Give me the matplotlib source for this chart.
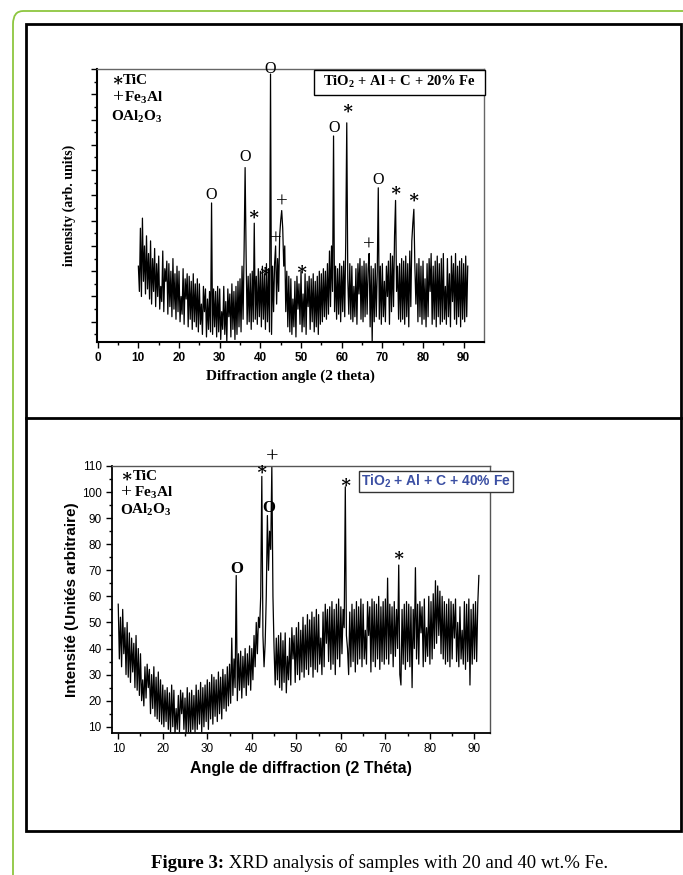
import numpy as np
import matplotlib
matplotlib.use('Agg')
import matplotlib.pyplot as plt
from matplotlib.patches import Rectangle, FancyBboxPatch
from matplotlib.lines import Line2D
from matplotlib import font_manager as fm

# 20 % Fe pattern (arb. units, 0.25 deg steps from 10 to 91)
ang20 = np.arange(10, 91.001, 0.25)
int20 = [
    30, 20, 45, 18, 49, 24, 38, 19, 42, 21,
    35, 17, 40, 15, 33, 20, 37, 14, 31, 18,
    34, 13, 22, 16, 36, 12, 29, 24, 32, 11,
    31, 14, 28, 10, 33, 13, 27, 9, 30, 12,
    28, 8, 18, 11, 29, 7, 25, 17, 27, 6,
    26, 9, 24, 5, 27, 8, 23, 6, 25, 4,
    23, 7, 15, 3, 22, 12, 21, 2, 17, 5,
    20, 4, 55, 3, 21, 6, 20, 2, 22, 4,
    21, 1, 12, 5, 22, 3, 16, 0, 21, 10,
    19, 2, 23, 5, 20, 1, 22, 3, 24, 6,
    25, 4, 30, 9, 36, 69, 34, 7, 26, 8,
    27, 5, 28, 8, 47, 9, 26, 7, 29, 10,
    28, 6, 30, 9, 27, 5, 31, 8, 29, 4,
    106, 3, 30, 12, 31, 38, 15, 33, 20, 42,
    48, 52, 45, 30, 38, 12, 28, 6, 26, 4,
    25, 3, 17, 6, 24, 2, 26, 13, 23, 7,
    28, 4, 19, 6, 27, 3, 24, 14, 26, 5,
    25, 8, 27, 4, 24, 6, 26, 3, 28, 7,
    27, 8, 29, 10, 28, 9, 31, 11, 36, 14,
    38, 20, 81.5, 12, 30, 9, 29, 11, 31, 8,
    30, 12, 32, 10, 40, 86.7, 25, 11, 31, 9,
    30, 8, 22, 10, 29, 7, 31, 19, 33, 9,
    30, 8, 32, 10, 31, 11, 29, 35, 6, 30,
    0, 29, 8, 31, 10, 28, 61, 9, 30, 7,
    31, 10, 24, 8, 30, 18, 32, 7, 35, 12,
    34, 14, 42, 56, 20, 30, 9, 31, 8, 33,
    9, 32, 7, 34, 10, 31, 6, 36, 14, 40,
    47, 52.5, 30, 15, 31, 8, 33, 10, 30, 7,
    32, 9, 25, 6, 31, 10, 33, 20, 35, 7,
    30, 9, 32, 6, 34, 10, 31, 7, 33, 8,
    35, 9, 22, 7, 33, 10, 27, 6, 34, 16,
    31, 9, 35, 7, 30, 10, 32, 6, 33, 9,
    31, 8, 34, 10, 30,
]

# 40 % Fe pattern (intensity, 0.25 deg steps from 10 to 91)
ang40 = np.arange(10, 91.001, 0.25)
int40 = [
    57, 36, 52, 33, 55, 38, 48, 30, 50, 29,
    46, 27, 44, 31, 42, 25, 45, 24, 40, 22,
    38, 20, 28, 18, 33, 21, 34, 25, 32, 15,
    30, 17, 33, 14, 29, 13, 31, 12, 28, 11,
    26, 10, 24, 12, 25, 9, 23, 8, 26, 10,
    24, 7, 17, 9, 22, 8, 24, 15, 23, 9,
    21, 7, 25, 8, 23, 6, 24, 9, 22, 8,
    26, 9, 24, 11, 27, 8, 25, 10, 26, 12,
    28, 9, 27, 13, 30, 11, 29, 14, 28, 12,
    31, 15, 29, 13, 32, 17, 30, 16, 33, 18,
    34, 19, 44, 22, 36, 25, 68, 20, 38, 24,
    39, 21, 37, 25, 40, 22, 38, 26, 41, 24,
    40, 28, 45, 33, 50, 38, 52, 48, 60, 106,
    45, 33, 42, 60, 91, 70, 85, 78, 110, 60,
    40, 26, 44, 28, 45, 25, 46, 24, 43, 27,
    46, 23, 37, 28, 44, 26, 48, 36, 45, 27,
    48, 30, 50, 28, 47, 31, 52, 29, 49, 32,
    53, 30, 51, 33, 54, 29, 52, 32, 55, 31,
    53, 34, 44, 30, 54, 33, 57, 42, 55, 35,
    56, 32, 58, 34, 55, 30, 57, 36, 59, 33,
    56, 38, 55, 48, 102, 45, 40, 30, 54, 33,
    57, 35, 55, 31, 58, 34, 56, 36, 59, 33,
    57, 36, 47, 34, 58, 45, 56, 31, 59, 35,
    58, 33, 57, 36, 60, 32, 56, 35, 58, 34,
    59, 36, 67, 34, 57, 38, 56, 33, 58, 37,
    55, 40, 72, 30, 26, 55, 34, 57, 32, 58,
    35, 57, 33, 56, 25, 55, 40, 71, 36, 57,
    34, 58, 46, 56, 33, 59, 35, 48, 37, 60,
    34, 58, 36, 61, 40, 66, 42, 64, 45, 62,
    38, 60, 36, 58, 34, 57, 35, 59, 33, 58,
    36, 57, 44, 59, 35, 50, 33, 56, 36, 47,
    34, 58, 32, 57, 35, 59, 26, 55, 34, 57,
    36, 58, 35, 57, 68,
]

# phase marks: (symbol, angle, height)
marks20 = [('O', 28.0, 58), ('O', 36.3, 73), ('∗', 38.4, 50), ('O', 42.5, 108),
           ('+', 43.8, 40.5), ('+', 45.3, 55), ('∗', 40.9, 27.5), ('∗', 50.2, 28.5),
           ('O', 58.1, 84.5), ('∗', 61.3, 92), ('+', 66.7, 38), ('O', 68.9, 64),
           ('∗', 73.2, 59.5), ('∗', 77.7, 57)]
marks40 = [('O', 36.6, 70.5), ('∗', 42.2, 108.5), ('O', 43.9, 94), ('+', 44.6, 113),
           ('∗', 61.1, 103.5), ('∗', 72.9, 75.5)]

W, H = 683, 875
fig = plt.figure(figsize=(W / 100, H / 100), dpi=100)

have = {f.name for f in fm.fontManager.ttflist}
narrow = 'Liberation Sans Narrow' if 'Liberation Sans Narrow' in have else 'Liberation Sans'
SERIF = ['Liberation Serif', 'DejaVu Serif']
SANS = [narrow, 'DejaVu Sans']
plt.rcParams['mathtext.fontset'] = 'custom'
plt.rcParams['mathtext.rm'] = 'Liberation Serif:bold'
plt.rcParams['mathtext.sf'] = narrow + ':bold'


def px(x, y):
    return x / W, 1 - y / H


# page decoration: green rounded border, black frame, divider
fig.add_artist(FancyBboxPatch(px(13, 900), 720 / W, 889 / H, boxstyle='round,pad=0,rounding_size=0.015',
                              transform=fig.transFigure, fc='none', ec='#8dc63f', lw=1.3))
fig.add_artist(Rectangle(px(26, 831), 655 / W, 807 / H, transform=fig.transFigure,
                         fc='none', ec='black', lw=2))
fig.add_artist(Line2D([26 / W, 681 / W], [1 - 418 / H] * 2, transform=fig.transFigure, color='black', lw=2))

SYM_SIZE = {'O': 11.5, '∗': 13, '+': 15}

# ---- top panel ----
ax1 = fig.add_axes([97.3 / W, 1 - 342 / H, 386.7 / W, 273 / H])
ax1.plot(ang20, int20, color='black', lw=0.9)
ax1.set_xlim(-0.1, 95)
ax1.set_ylim(0, 108)
ax1.set_xticks(range(0, 91, 10))
ax1.set_xticks(range(5, 91, 10), minor=True)
ax1.set_yticks(range(8, 109, 10))
ax1.set_yticks(range(3, 104, 10), minor=True)
ax1.set_yticklabels([])
ax1.tick_params(direction='out', length=4, width=1)
ax1.tick_params(which='minor', direction='out', length=2.5, width=1)
for lab in ax1.get_xticklabels():
    lab.set_family(SANS); lab.set_fontweight('bold'); lab.set_fontsize(8.5)
ax1.set_xlabel('Diffraction angle (2 theta)', family=SERIF, fontweight='bold', fontsize=11, labelpad=4)
ax1.set_ylabel('intensity (arb. units)', family=SERIF, fontweight='bold', fontsize=10, labelpad=8)
for s in ('left', 'bottom'):
    ax1.spines[s].set_linewidth(1.5)
for s in ('top', 'right'):
    ax1.spines[s].set_color('#666666'); ax1.spines[s].set_linewidth(1)

leg1 = [('∗', 'TiC'), ('+', 'Fe$_3$Al'), ('O', 'Al$_2$O$_3$')]
for (sym, name), yy in zip(leg1, [0.957, 0.894, 0.825]):
    ax1.text(0.037, yy, sym, transform=ax1.transAxes, family=SERIF,
             fontweight='normal' if sym == '+' else 'bold',
             fontsize={'O': 11, '∗': 13, '+': 14}[sym], ha='left', va='center')
    ax1.text(0.037 + (0.03 if sym == '∗' else 0.033 if sym == '+' else 0.027), yy, name,
             transform=ax1.transAxes, family=SERIF, fontweight='bold', fontsize=11, ha='left', va='center')

ax1.add_patch(Rectangle((0.560, 0.905), 0.443, 0.091, transform=ax1.transAxes, fc='white',
                        ec='black', lw=1, clip_on=False, zorder=4))
ax1.text(0.781, 0.952, 'TiO$_2$ + Al + C + 20% Fe', transform=ax1.transAxes, family=SERIF,
         fontweight='bold', fontsize=10.5, ha='center', va='center', zorder=5)

for sym, xx, yy in marks20:
    ax1.text(xx, yy, sym, family=SERIF, fontsize=SYM_SIZE[sym],
             fontweight='bold' if sym == '∗' else 'normal', ha='center', va='center', clip_on=False)

# ---- bottom panel ----
ax2 = fig.add_axes([112 / W, 1 - 733 / H, 378 / W, 267 / H])
ax2.plot(ang40, int40, color='black', lw=0.9)
ax2.set_xlim(8.6, 93.5)
ax2.set_ylim(7.6, 110)
ax2.set_xticks(range(10, 91, 10))
ax2.set_xticks(range(15, 91, 10), minor=True)
ax2.set_yticks(range(10, 111, 10))
ax2.set_yticks(range(15, 106, 10), minor=True)
ax2.tick_params(direction='out', length=4, width=1, labelsize=8.5)
ax2.tick_params(which='minor', direction='out', length=2.5, width=1)
for lab in ax2.get_xticklabels() + ax2.get_yticklabels():
    lab.set_family(SANS)
ax2.set_xlabel('Angle de diffraction (2 Théta)', family=SANS, fontweight='bold', fontsize=11.5, labelpad=4)
ax2.set_ylabel('Intensité (Unités arbitraire)', family=SANS, fontweight='bold', fontsize=11, labelpad=2)
for s in ('left', 'bottom'):
    ax2.spines[s].set_linewidth(1.3)
for s in ('top', 'right'):
    ax2.spines[s].set_color('#555555'); ax2.spines[s].set_linewidth(1)

for (sym, name), yy in zip(leg1, [0.959, 0.899, 0.835]):
    ax2.text(0.021, yy, sym, transform=ax2.transAxes, family=SERIF,
             fontweight='normal' if sym == '+' else 'bold',
             fontsize={'O': 11, '∗': 13, '+': 14}[sym], ha='left', va='center')
    ax2.text(0.021 + (0.035 if sym == '∗' else 0.038 if sym == '+' else 0.03), yy, name,
             transform=ax2.transAxes, family=SERIF, fontweight='bold', fontsize=11, ha='left', va='center')

ax2.add_patch(Rectangle((0.653, 0.904), 0.407, 0.078, transform=ax2.transAxes, fc='white',
                        ec='#333333', lw=1, clip_on=False, zorder=4))
ax2.text(0.856, 0.944, 'TiO$_\\mathsf{2}$ + Al + C + 40% Fe', transform=ax2.transAxes, family=SANS,
         fontweight='bold', fontsize=10, color='#3b4fa3', ha='center', va='center', zorder=5)

for sym, xx, yy in marks40:
    ax2.text(xx, yy, sym, family=SERIF, fontsize={'O': 12, '∗': 13, '+': 16}[sym],
             fontweight='bold' if sym != '+' else 'normal', ha='center', va='center', clip_on=False)

# caption: bold lead-in + regular text, centred as a whole
cap1 = fig.text(0, 0, 'Figure 3:', family=SERIF, fontweight='bold', fontsize=13.5)
cap2 = fig.text(0, 0, ' XRD analysis of samples with 20 and 40 wt.% Fe.', family=SERIF, fontsize=13.5)
r = fig.canvas.get_renderer()
w1 = cap1.get_window_extent(r).width
w2 = cap2.get_window_extent(r).width
x0 = 380 - (w1 + w2) / 2
cap1.set_position((x0 / W, 1 - 863 / H)); cap1.set_va('center')
cap2.set_position(((x0 + w1) / W, 1 - 863 / H)); cap2.set_va('center')

fig.savefig('out.png', dpi=100)
